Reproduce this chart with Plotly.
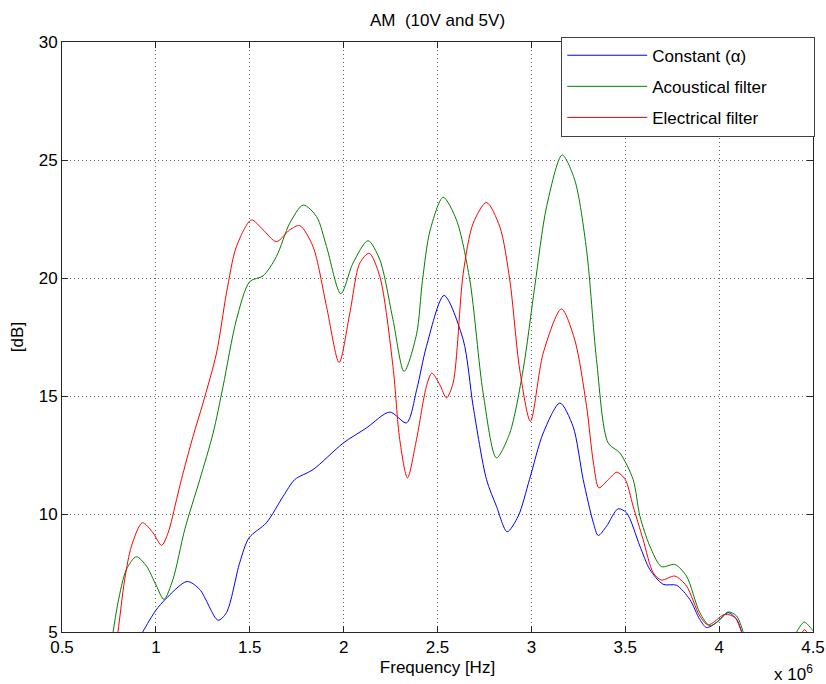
import plotly.graph_objects as go

# Frequency in units of 1e6 Hz, level in dB
const_f = [0.85, 0.93, 1.0, 1.05, 1.166, 1.234, 1.331, 1.376, 1.447, 1.496, 1.589, 1.678, 1.74, 1.837,
           1.997, 2.122, 2.246, 2.335, 2.39, 2.441, 2.535, 2.637, 2.69, 2.761, 2.814, 2.871, 2.93, 2.99,
           3.063, 3.152, 3.222, 3.276, 3.33, 3.356, 3.40, 3.462, 3.507, 3.578, 3.631, 3.702, 3.773,
           3.844, 3.897, 3.933, 3.986, 4.048, 4.093, 4.12, 4.15]
const_db = [3.8, 5.0, 5.92, 6.38, 7.14, 6.8, 5.5, 5.82, 7.95, 8.99, 9.63, 10.75, 11.46, 11.88,
            13.0, 13.65, 14.32, 13.86, 15.3, 17.1, 19.26, 17.38, 14.56, 11.46, 10.33, 9.25, 9.91, 11.46,
            13.43, 14.7, 13.71, 11.46, 9.63, 9.09, 9.48, 10.22, 10.05, 8.64, 7.65, 7.02, 6.98,
            6.38, 5.53, 5.19, 5.4, 5.82, 5.54, 5.0, 4.3]

acou_f = [0.74, 0.772, 0.798, 0.843, 0.896, 0.95, 1.003, 1.043, 1.091, 1.154, 1.234, 1.305, 1.358,
          1.429, 1.5, 1.571, 1.642, 1.713, 1.785, 1.856, 1.909, 1.985, 2.05, 2.13, 2.193, 2.263,
          2.322, 2.388, 2.42, 2.46, 2.53, 2.601, 2.672, 2.743, 2.814, 2.885, 2.956, 3.018, 3.081,
          3.164, 3.231, 3.294, 3.347, 3.409, 3.471, 3.542, 3.578, 3.631, 3.693, 3.764, 3.826,
          3.897, 3.951, 4.0, 4.048, 4.093, 4.128, 4.16, None, 4.38, 4.413, 4.453, 4.49, 4.5]
acou_db = [3.5, 5.0, 6.24, 7.65, 8.19, 7.79, 6.95, 6.38, 7.23, 9.35, 11.46, 13.43, 15.41,
           18.23, 19.85, 20.09, 20.91, 22.32, 23.09, 22.6, 21.33, 19.33, 20.63, 21.58, 20.77, 18.23,
           16.04, 17.6, 19.9, 22.0, 23.42, 22.46, 19.92, 15.13, 12.38, 13.43, 16.11, 19.64, 23.02,
           25.21, 24.15, 21.19, 16.54, 13.01, 12.59, 11.46, 9.91, 8.64, 7.77, 7.86, 7.37,
           5.82, 5.26, 5.5, 5.85, 5.68, 5.0, 4.0, None, 4.5, 5.0, 5.42, 5.15, 5.05]

elec_f = [0.77, 0.798, 0.834, 0.87, 0.928, 0.985, 1.03, 1.065, 1.11, 1.136, 1.198, 1.251, 1.323,
          1.376, 1.429, 1.509, 1.571, 1.642, 1.713, 1.766, 1.837, 1.909, 1.976, 2.033, 2.086, 2.136,
          2.193, 2.263, 2.299, 2.34, 2.388, 2.441, 2.47, 2.512, 2.548, 2.583, 2.637, 2.69, 2.761,
          2.832, 2.885, 2.938, 2.995, 3.063, 3.16, 3.231, 3.294, 3.33, 3.36, 3.41, 3.455, 3.50,
          3.542, 3.595, 3.649, 3.693, 3.764, 3.826, 3.897, 3.942, 4.031, 4.084, 4.12, 4.15,
          None, 4.43, 4.455, 4.48]
elec_db = [3.5, 5.0, 7.23, 8.64, 9.63, 9.2, 8.67, 9.2, 10.61, 11.46, 13.29, 14.7, 16.82,
           19.36, 21.33, 22.46, 22.04, 21.54, 22.04, 22.22, 21.33, 18.79, 16.42, 18.51, 20.63, 21.05,
           20.06, 16.25, 13.15, 11.53, 13.15, 15.41, 15.97, 15.48, 14.92, 15.55, 20.2, 22.32, 23.2,
           22.17, 19.92, 16.11, 13.93, 16.82, 18.69, 17.38, 14.56, 12.2, 11.11, 11.46, 11.77, 11.46,
           10.33, 8.92, 7.51, 7.2, 7.37, 6.95, 5.68, 5.3, 5.75, 5.61, 5.0, 4.2,
           None, 4.8, 5.1, 4.8]

series_names = ["Constant (\u03b1)", "Acoustical filter", "Electrical filter"]
series = [
    (series_names[0], const_f, const_db, "#0000ff"),
    (series_names[1], acou_f, acou_db, "#008000"),
    (series_names[2], elec_f, elec_db, "#ff0000"),
]

FONT = "Liberation Sans, Arial, sans-serif"
PAD = "\u00a0" * 9  # widens the legend box like the reference

fig = go.Figure()
for i, (name, xs, ys, col) in enumerate(series):
    fig.add_trace(go.Scatter(
        x=xs, y=ys, name=name + PAD, mode="lines", legendgroup=f"g{i}",
        line=dict(color=col, width=1, shape="spline", smoothing=0.8),
        connectgaps=False,
    ))

axis_common = dict(
    showline=True, linecolor="#262626", linewidth=1, mirror="ticks",
    ticks="inside", ticklen=6, tickcolor="#262626",
    showgrid=True, gridcolor="#666666", griddash="1px,3px", gridwidth=1,
    zeroline=False, tickfont=dict(size=17, color="black", family=FONT),
)

fig.update_layout(
    width=826, height=684,
    margin=dict(l=62, r=13, t=42, b=52, autoexpand=False),
    plot_bgcolor="white", paper_bgcolor="white",
    font=dict(family=FONT, size=17, color="black"),
    title=dict(text="AM\u00a0\u00a0(10V and 5V)", x=0.5, xref="paper", y=1 - 20 / 684,
               yref="container", yanchor="middle", xanchor="center",
               font=dict(size=17, color="black")),
    xaxis=dict(range=[0.5, 4.5], dtick=0.5, tick0=0.5,
               title=dict(text="Frequency [Hz]", standoff=4, font=dict(size=17)), **axis_common),
    yaxis=dict(range=[5, 30], dtick=5, tick0=5,
               title=dict(text="[dB]", standoff=10, font=dict(size=17)), **axis_common),
    legend=dict(x=1.003, xanchor="right", y=1.009, yanchor="top",
                bgcolor="white", bordercolor="#404040", borderwidth=1,
                font=dict(size=17, color="black"), tracegroupgap=6,
                itemwidth=80),
    showlegend=True,
    annotations=[dict(text="x 10<sup>6</sup>", xref="paper", yref="paper",
                      x=1.0027, y=-0.069, xanchor="right", yanchor="middle",
                      showarrow=False, font=dict(size=17, color="black"))],
)

fig.write_html("out.html")
